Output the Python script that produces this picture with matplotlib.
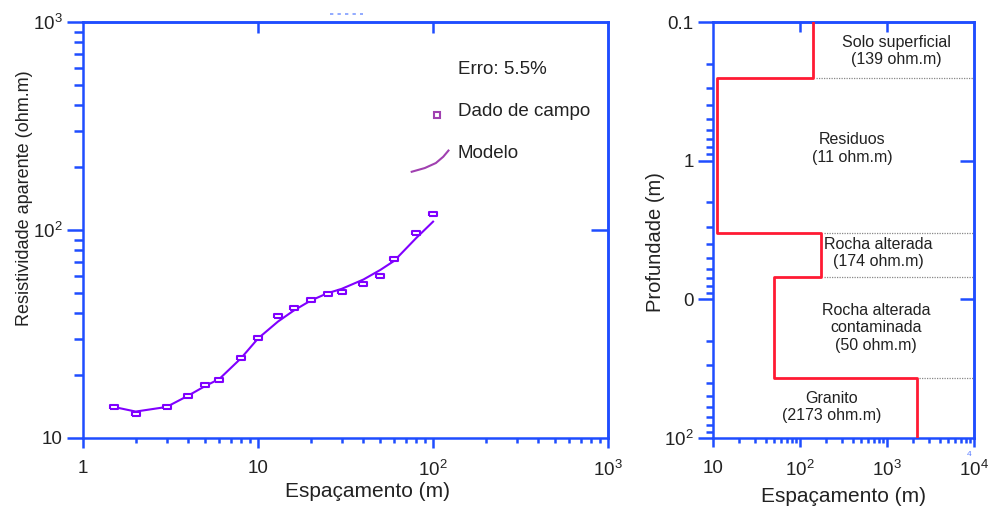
import matplotlib
matplotlib.use("Agg")
import matplotlib.pyplot as plt
import numpy as np
from matplotlib.ticker import FixedLocator, FixedFormatter, NullLocator
from matplotlib.lines import Line2D

plt.rcParams['font.family'] = ['Liberation Sans', 'DejaVu Sans']
plt.rcParams['mathtext.default'] = 'regular'

# --- data: sondagem eletrica (curva de campo + modelo) ---
espacamento = [1.5, 2, 3, 4, 5, 6, 8, 10, 13, 16, 20, 25, 30, 40, 50, 60, 80, 100]
rho_campo = [14.1, 13.1, 14.1, 16.0, 18.0, 19.0, 24.2, 30.3, 38.4, 42.4,
             46.3, 49.3, 50.3, 55.3, 60.2, 72.4, 96.5, 120.0]
rho_modelo = [14.1, 13.4, 14.1, 16.0, 17.8, 19.2, 24.2, 30.1, 36.3, 41.0,
              45.8, 49.7, 52.1, 57.8, 64.3, 71.1, 91.4, 109.7]
erro = 5.5

# --- data: modelo de camadas ---
camadas = ["Solo superficial", "Residuos", "Rocha alterada",
           "Rocha alterada\ncontaminada", "Granito"]
resistividade = [139, 11, 174, 50, 2173]
profundidade = [0.1, 0.255, 3.34, 6.93, 36.7, 100]

BLUE = "#1f4dff"
RED = "#ff1a33"
VIOLET = "#8000ff"
PURPLE = "#a040b0"

fig = plt.figure(figsize=(9.98, 5.13), dpi=100)
ax1 = fig.add_axes([0.0832, 0.1462, 0.5261, 0.8109])
ax2 = fig.add_axes([0.7147, 0.1462, 0.2615, 0.8109])


def style_axes(ax, maj_len_y, min_len_y, maj_len_x, min_len_x):
    for s in ax.spines.values():
        s.set_color(BLUE)
        s.set_linewidth(1.8)
    ax.tick_params(which='both', color=BLUE, width=1.8, direction='out',
                   labelsize=13.5, labelcolor='#222222')
    ax.tick_params(axis='y', which='major', length=maj_len_y, pad=3)
    ax.tick_params(axis='y', which='minor', length=min_len_y)
    ax.tick_params(axis='x', which='major', length=maj_len_x, pad=9)
    ax.tick_params(axis='x', which='minor', length=min_len_x)


def inner_ticks(ax, xt, yt, lx, ly):
    sx = ax.secondary_xaxis('top')
    sx.set_xticks(xt)
    sx.xaxis.set_minor_locator(NullLocator())
    sx.tick_params(direction='in', length=lx, width=1.8, color=BLUE,
                   labeltop=False)
    sx.spines['top'].set_color(BLUE)
    sx.spines['top'].set_linewidth(1.8)
    sy = ax.secondary_yaxis('right')
    sy.set_yticks(yt)
    sy.yaxis.set_minor_locator(NullLocator())
    sy.tick_params(direction='in', length=ly, width=1.8, color=BLUE,
                   labelright=False)
    sy.spines['right'].set_color(BLUE)
    sy.spines['right'].set_linewidth(1.8)


sup = lambda e: r'$\mathdefault{10^{%d}}$' % e

# ---------------- left panel ----------------
ax1.set_xscale('log')
ax1.set_yscale('log')
ax1.set_xlim(1, 1000)
ax1.set_ylim(10, 1000)

ax1.plot(espacamento, rho_modelo, color=VIOLET, lw=1.5, zorder=2)
rect = [(-1, -0.6), (1, -0.6), (1, 0.6), (-1, 0.6), (-1, -0.6)]
ax1.plot(espacamento, rho_campo, ls='none', marker=rect, ms=5.6,
         mfc='white', mec=VIOLET, mew=1.5, zorder=3)

ax1.xaxis.set_major_locator(FixedLocator([1, 10, 100, 1000]))
ax1.xaxis.set_major_formatter(FixedFormatter(['1', '10', sup(2), sup(3)]))
ax1.yaxis.set_major_locator(FixedLocator([10, 100, 1000]))
ax1.yaxis.set_major_formatter(FixedFormatter(['10', sup(2), sup(3)]))
style_axes(ax1, 11.5, 6.5, 7, 3.6)
inner_ticks(ax1, [10, 100], [100], 8, 12.5)

ax1.set_xlabel("Espaçamento (m)", fontsize=15, color='#222222')
ax1.xaxis.set_label_coords(0.542, -0.105)
ax1.set_ylabel("Resistividade aparente (ohm.m)", fontsize=13, color='#222222')
ax1.yaxis.set_label_coords(-0.095, 0.577)

# legenda desenhada a mao
ax1.text(0.714, 0.885, "Erro: %.1f%%" % erro, transform=ax1.transAxes,
         fontsize=13.5, va='center', color='#222222')
ax1.plot([0.674], [0.776], transform=ax1.transAxes, ls='none', marker='s',
         ms=5, mfc='white', mec=PURPLE, mew=1.5)
ax1.text(0.714, 0.785, "Dado de campo", transform=ax1.transAxes,
         fontsize=13.5, va='center', color='#222222')
leg_x = [0.626, 0.651, 0.672, 0.686, 0.696]
leg_y = [0.640, 0.649, 0.661, 0.676, 0.691]
ax1.plot(leg_x, leg_y, transform=ax1.transAxes, color=PURPLE, lw=1.5)
ax1.text(0.714, 0.685, "Modelo", transform=ax1.transAxes,
         fontsize=13.5, va='center', color='#222222')

# ---------------- right panel ----------------
ax2.set_xscale('log')
ax2.set_yscale('log')
ax2.set_xlim(10, 10000)
ax2.set_ylim(100, 0.1)

xs = np.repeat(resistividade, 2)
ys = np.column_stack([profundidade[:-1], profundidade[1:]]).ravel()
ax2.plot(xs, ys, color=RED, lw=2.0, zorder=3)

for i in range(1, len(profundidade) - 1):
    x0 = max(resistividade[i - 1], resistividade[i]) * 1.08
    ax2.hlines(profundidade[i], x0, 10000, colors='#888888', lw=0.9,
               linestyles=(0, (1, 1)), zorder=2)

label_pos = [(0.70, 0.930), (0.532, 0.696), (0.632, 0.444),
             (0.624, 0.265), (0.454, 0.074)]
for nome, r, (tx, ty) in zip(camadas, resistividade, label_pos):
    ax2.text(tx, ty, "%s\n(%d ohm.m)" % (nome, r), transform=ax2.transAxes,
             ha='center', va='center', fontsize=11.5, color='#222222',
             linespacing=1.2)

ax2.xaxis.set_major_locator(FixedLocator([10, 100, 1000, 10000]))
ax2.xaxis.set_major_formatter(FixedFormatter(['10', sup(2), sup(3), sup(4)]))
ax2.yaxis.set_major_locator(FixedLocator([0.1, 1, 10, 100]))
ax2.yaxis.set_major_formatter(FixedFormatter(['0.1', '1', '0', sup(2)]))
style_axes(ax2, 11, 5, 6.5, 3.6)
inner_ticks(ax2, [100, 1000], [1, 10], 7, 10)

ax2.set_xlabel("Espaçamento (m)", fontsize=15, color='#222222')
ax2.xaxis.set_label_coords(0.5, -0.117)
ax2.set_ylabel("Profundade (m)", fontsize=14.5, color='#222222')
ax2.yaxis.set_label_coords(-0.185, 0.47)

# pequenos restos azuis do original
fig.add_artist(Line2D([0.331, 0.364], [0.973, 0.973], color='#7f9cff',
                      lw=1.2, ls=(0, (2, 2.5))))
fig.text(0.971, 0.111, "4", color='#5a7dff', fontsize=6, ha='center')

fig.savefig("out.png", dpi=100)
